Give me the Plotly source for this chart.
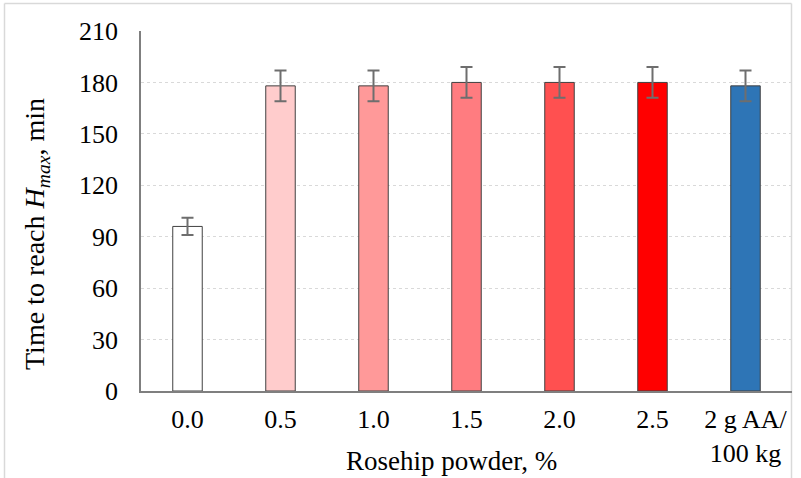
import plotly.graph_objects as go

categories = ["0.0", "0.5", "1.0", "1.5", "2.0", "2.5", "2 g AA/<br>100 kg"]
values = [96, 178, 178, 180, 180, 180, 178]
errors = [5, 9, 9, 9, 9, 9, 9]
colors = ["#FFFFFF", "#FFCCCC", "#FF9999", "#FF7C80", "#FF5050", "#FF0000", "#2E75B6"]
y_ticks = [0, 30, 60, 90, 120, 150, 180, 210]

FONT = "Liberation Serif, Times New Roman, serif"

fig = go.Figure()
fig.add_trace(go.Bar(
    x=categories, y=values,
    marker=dict(color=colors, line=dict(color="#404040", width=1)),
    error_y=dict(type="data", array=errors, visible=True, color="#6E6E6E", thickness=2, width=6),
    width=0.317,
))

fig.update_layout(
    width=801, height=478,
    margin=dict(l=141, r=9, t=31, b=87),
    paper_bgcolor="white", plot_bgcolor="white",
    font=dict(family=FONT, size=26, color="#000000"),
    showlegend=False,
    bargap=0.683,
)
fig.update_xaxes(
    type="category", showline=True, linecolor="#7F7F7F", linewidth=1.5,
    ticks="outside", ticklen=0, showgrid=False, tickfont=dict(size=26), ticklabelstandoff=4,
    automargin=False,
)
fig.update_yaxes(
    range=[0, 210], tickvals=y_ticks, showline=True, linecolor="#7F7F7F", linewidth=1.5,
    showgrid=True, gridcolor="#D9D9D9", griddash="dot", gridwidth=1,
    ticks="", ticklabelstandoff=16, tickfont=dict(size=26), zeroline=False,
    automargin=False,
)

fig.add_annotation(
    text="Time to reach <i>H<sub>max</sub></i>, min", textangle=-90,
    xref="paper", yref="paper", x=(36 - 141) / 651, y=(391 - 234) / 360,
    xanchor="center", yanchor="middle",
    showarrow=False, font=dict(family=FONT, size=28, color="#000000"),
)
fig.add_annotation(
    text="Rosehip powder, %",
    xref="paper", yref="paper", x=(451 - 141) / 651, y=(391 - 461) / 360,
    xanchor="center", yanchor="middle",
    showarrow=False, font=dict(family=FONT, size=27, color="#000000"),
)

# chart-area border (light gray)
for x0, y0, x1, y1 in [(4.5, 3.5, 4.5, 478), (4.5, 3.5, 791.5, 3.5), (791.5, 3.5, 791.5, 478)]:
    fig.add_shape(type="line", xref="paper", yref="paper",
                  x0=(x0 - 141) / 651, x1=(x1 - 141) / 651,
                  y0=(391 - y0) / 360, y1=(391 - y1) / 360,
                  line=dict(color="#D9D9D9", width=1.5), layer="below")

fig.write_html("out.html")
